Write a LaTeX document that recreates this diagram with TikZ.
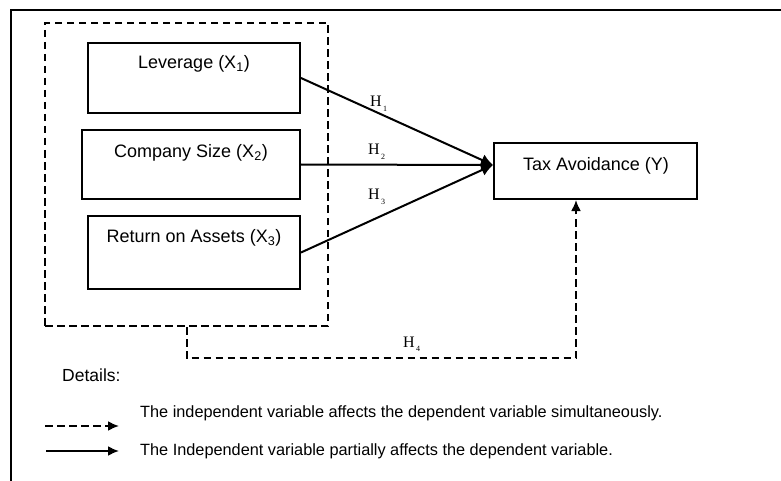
\documentclass[tikz,border=0pt]{standalone}
\usepackage{fontspec}
\setmainfont{Liberation Sans}
\newfontfamily\hypfont{Liberation Serif}
\usepackage{tikz}
\usetikzlibrary{arrows.meta}

% hypothesis label: serif H with a small lowered index
\newcommand{\hypo}[1]{{\hypfont\fontsize{16}{16}\selectfont H\raisebox{-4.5pt}{\fontsize{8}{8}\selectfont\,#1}}}

\begin{document}
\begin{tikzpicture}[x=1pt, y=-1pt, >={Latex[length=12pt,width=12pt]}, font=\fontsize{18}{21}\selectfont]

\tikzstyle{varbox} = [draw, line width=2pt, rectangle, inner sep=0pt]
\tikzstyle{group} = [draw, line width=2pt, dash pattern=on 7.5pt off 4.5pt, rectangle, inner sep=0pt]
\tikzstyle{link} = [->, line width=2pt]
\tikzstyle{simlink} = [->, line width=2pt, dash pattern=on 7.5pt off 4.5pt]
\tikzstyle{legtext} = [anchor=west, inner sep=0pt, font=\fontsize{16.3}{19}\selectfont]

\useasboundingbox (0,0) rectangle (781,481);

% Outer frame (top and left only)
\draw[line width=2.4pt] (781,10) -- (11,10) -- (11,481);

% Independent variables group
\node[group, minimum width=283pt, minimum height=303pt] (indep) at (186.5,174.5) {};

% Variable boxes
\node[varbox, minimum width=212pt, minimum height=70pt] (lev) at (194,78) {};
\node[varbox, minimum width=218pt, minimum height=69pt] (size) at (191,164.5) {};
\node[varbox, minimum width=212pt, minimum height=73pt] (roa) at (194,252.5) {};
\node[varbox, minimum width=203pt, minimum height=56pt] (tax) at (595.5,171) {};

\node (levtext) at (194,64) {Leverage (X\textsubscript{1})};
\node (sizetext) at (191,153) {Company Size (X\textsubscript{2})};
\node (roatext) at (194,238) {Return on Assets (X\textsubscript{3})};
\node (taxtext) at (596,166) {Tax Avoidance (Y)};

% Partial effects
\coordinate (meet) at ([yshift=6pt]tax.west);
\draw[link] (lev.east) -- (meet);
\draw[link] (size.east) -- (meet);
\draw[link] (roa.east) -- (meet);
\node[anchor=base west, inner sep=0pt] (h1) at (370,107) {\hypo{1}};
\node[anchor=base west, inner sep=0pt] (h2) at (368,155) {\hypo{2}};
\node[anchor=base west, inner sep=0pt] (h3) at (368,200) {\hypo{3}};

% Simultaneous effect
\draw[simlink, >={Latex[length=11pt,width=10pt]}] (indep.south) -- ++(0,31) -| ([xshift=-19.5pt]tax.south);
\node[anchor=base west, inner sep=0pt] (h4) at (403,347) {\hypo{4}};

% Legend
\node[anchor=west, inner sep=0pt, font=\fontsize{17.5}{20}\selectfont] (details) at (62,375) {Details:};
\coordinate (leg1a) at (45,426);
\coordinate (leg1b) at (119,426);
\coordinate (leg2a) at (46,451);
\coordinate (leg2b) at (119,451);
\draw[simlink, >={Latex[length=11pt,width=10pt]}] (leg1a) -- (leg1b);
\draw[link, >={Latex[length=11pt,width=10pt]}] (leg2a) -- (leg2b);
\node[legtext] (sim) at (140,413) {The independent variable affects the dependent variable simultaneously.};
\node[legtext] (part) at (140,451) {The Independent variable partially affects the dependent variable.};

\end{tikzpicture}
\end{document}
